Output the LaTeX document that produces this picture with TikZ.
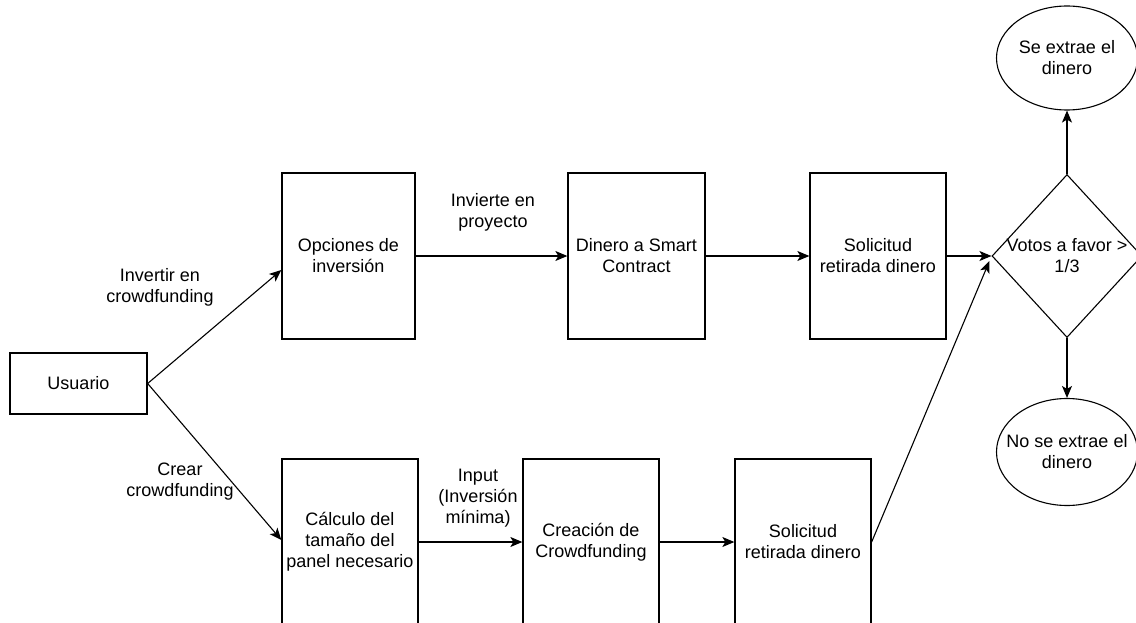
\documentclass[tikz,border=0pt]{standalone}
\usepackage{fontspec}
\setmainfont{Liberation Sans}
\usetikzlibrary{shapes.geometric,arrows.meta}
\begin{document}
\begin{tikzpicture}[x=1pt,y=-1pt,
  font=\fontsize{18}{21}\selectfont,
  box/.style={draw, line width=1.3pt, align=center, inner sep=0pt},
  stepbox/.style={box, minimum width=136pt, minimum height=166pt},
  flow/.style={draw, line width=1.1pt, -{Stealth[length=12pt,width=10pt,inset=3pt]}},
  lbl/.style={align=center, inner sep=0pt}]
\useasboundingbox (0,0) rectangle (1136,623);

% start
\node[box, minimum width=137pt, minimum height=61pt] (user) at (78.5,383.5) {Usuario};

% investor branch
\node[stepbox, minimum width=133pt] (opc) at (348.5,256) {Opciones de\\inversión};
\node[stepbox, minimum width=137pt] (smart) at (636.5,256) {Dinero a Smart\\Contract};
\node[stepbox] (sol1) at (878,256) {Solicitud\\retirada dinero};

% creator branch
\node[stepbox] (calc) at (350,542) {Cálculo del\\tamaño del\\panel necesario};
\node[stepbox] (crea) at (591,542) {Creación de\\Crowdfunding};
\node[stepbox] (sol2) at (803,542) {Solicitud\\retirada dinero};

% decision and outcomes
\node[draw, line width=1.1pt, diamond, minimum width=150pt, minimum height=163pt, inner sep=0pt,
      label={[lbl]center:Votos a favor >\\1/3}] (vote) at (1067,256) {};
\node[draw, line width=1.1pt, ellipse, minimum width=141pt, minimum height=104pt, inner sep=0pt,
      label={[lbl]center:Se extrae el\\dinero}] (yes) at (1067,58) {};
\node[draw, line width=1.1pt, ellipse, minimum width=141pt, minimum height=107pt, inner sep=0pt,
      label={[lbl]center:No se extrae el\\dinero}] (no) at (1067,452) {};

% edge labels
\node[lbl] (l1) at (160,287) {Invertir en\\crowdfunding};
\node[lbl] (l2) at (180,482) {Crear\\crowdfunding};
\node[lbl] (l3) at (493,212) {Invierte en\\proyecto};
\node[lbl] (l4) at (478,498) {Input\\(Inversión\\mínima)};

% connectors
\draw[flow] (user.east) -- ([yshift=-14pt]opc.west);
\draw[flow] (user.east) -- ([yshift=2pt]calc.west);
\draw[flow] (opc.east) -- (smart.west);
\draw[flow] (smart.east) -- (sol1.west);
\draw[flow] (sol1.east) -- (vote.west);
\draw[flow] (calc.east) -- (crea.west);
\draw[flow] (crea.east) -- (sol2.west);
\draw[flow] (sol2.east) -- ([xshift=-2pt,yshift=-5pt]vote.west);
\draw[flow] (vote.north) -- (yes.south);
\draw[flow] (vote.south) -- (no.north);
\end{tikzpicture}
\end{document}
